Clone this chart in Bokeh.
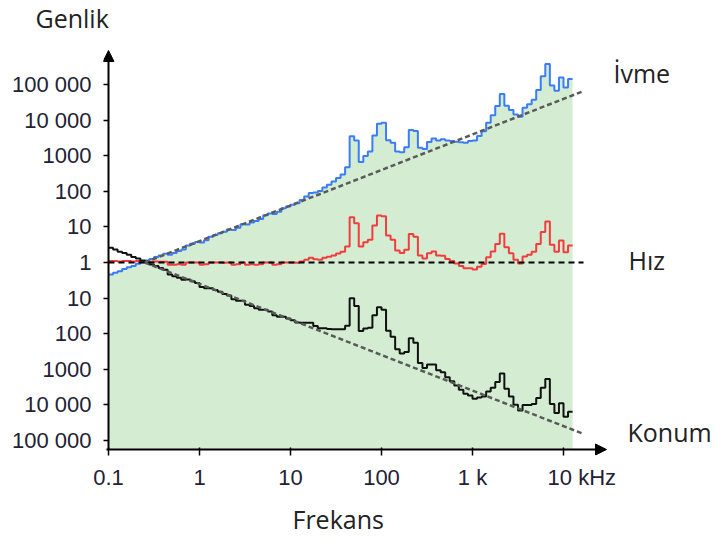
import numpy as np
from bokeh.plotting import figure
from bokeh.models import Range1d, FixedTicker, Arrow, NormalHead, Label, Title
from bokeh.embed import file_html
from bokeh.resources import INLINE

# Frequency bands: 102 bands of 0.05 decade from 0.1 Hz upward
band_edges_hz = 10 ** np.linspace(-1.0, 4.1, 103)

# Band levels as log10 of the normalised amplitude (0 -> 1, 5 -> 100 000, -5 -> 1/100 000)
hiz_log = [
    0.04, 0.04, 0.03, 0.04, 0.04, 0.03, 0.04, 0.03, 0.03, 0.02,
    0.03, 0.02, 0.02, -0.06, -0.06, -0.05, -0.06, 0.0, 0.0, 0.0,
    -0.06, -0.05, 0.0, 0.0, 0.0, -0.01, 0.0, -0.06, -0.05, 0.0,
    -0.06, -0.05, -0.06, -0.05, 0.0, 0.0, -0.06, -0.05, 0.0, 0.0,
    0.0, -0.01, 0.03, 0.08, 0.13, 0.09, 0.08, 0.13, 0.16, 0.2,
    0.25, 0.3, 0.45, 1.27, 1.1, 0.45, 0.57, 0.64, 1.04, 1.32,
    1.3, 0.76, 0.64, 0.34, 0.27, 0.36, 0.8, 0.72, 0.2, 0.11,
    0.26, 0.31, 0.2, 0.19, 0.1, 0.04, -0.03, -0.1, -0.16, -0.16,
    -0.2, -0.12, -0.04, 0.15, 0.31, 0.52, 0.81, 0.43, 0.26, 0.08,
    -0.03, 0.17, 0.22, 0.3, 0.52, 0.86, 1.15, 0.5, 0.3, 0.62,
    0.29, 0.48,
]
ivme_log = [
    -0.335, -0.285, -0.245, -0.185, -0.135, -0.095, -0.035, 0.005, 0.055, 0.095,
    0.155, 0.195, 0.245, 0.215, 0.265, 0.325, 0.365, 0.475, 0.525, 0.575,
    0.565, 0.625, 0.725, 0.775, 0.825, 0.865, 0.925, 0.915, 0.975, 1.075,
    1.065, 1.125, 1.165, 1.225, 1.325, 1.375, 1.365, 1.425, 1.525, 1.575,
    1.625, 1.665, 1.755, 1.855, 1.955, 1.965, 2.005, 2.105, 2.185, 2.275,
    2.375, 2.475, 2.675, 3.545, 3.425, 2.825, 2.995, 3.115, 3.565, 3.895,
    3.925, 3.435, 3.365, 3.115, 3.095, 3.235, 3.725, 3.695, 3.225, 3.185,
    3.385, 3.485, 3.425, 3.465, 3.425, 3.415, 3.395, 3.375, 3.365, 3.415,
    3.425, 3.555, 3.685, 3.925, 4.135, 4.395, 4.735, 4.405, 4.285, 4.155,
    4.095, 4.345, 4.445, 4.575, 4.845, 5.235, 5.575, 4.975, 4.825, 5.195,
    4.915, 5.155,
]
konum_log = [
    0.415, 0.365, 0.305, 0.265, 0.215, 0.155, 0.115, 0.055, 0.005, -0.055,
    -0.095, -0.155, -0.205, -0.335, -0.385, -0.425, -0.485, -0.475, -0.525, -0.575,
    -0.685, -0.725, -0.725, -0.775, -0.825, -0.885, -0.925, -1.035, -1.075, -1.075,
    -1.185, -1.225, -1.285, -1.325, -1.325, -1.375, -1.485, -1.525, -1.525, -1.575,
    -1.625, -1.685, -1.695, -1.695, -1.695, -1.785, -1.845, -1.845, -1.865, -1.875,
    -1.875, -1.875, -1.775, -1.005, -1.225, -1.925, -1.855, -1.835, -1.485, -1.255,
    -1.325, -1.915, -2.085, -2.435, -2.555, -2.515, -2.125, -2.255, -2.825, -2.965,
    -2.865, -2.865, -3.025, -3.085, -3.225, -3.335, -3.455, -3.575, -3.685, -3.735,
    -3.825, -3.795, -3.765, -3.625, -3.515, -3.355, -3.115, -3.545, -3.765, -3.995,
    -4.155, -4.005, -4.005, -3.975, -3.805, -3.515, -3.275, -3.975, -4.225, -3.955,
    -4.335, -4.195,
]

# Reference lines: flat velocity and the +/-1 decade-per-decade slopes
ref_f = [0.1, 16600]
hiz_ref = [0.0, 0.0]
trend_f = [0.25, 16000]
ivme_trend = [0.0, 4.8]
konum_trend = [0.0, -4.8]

# Axis tick values and their labels (figure spaces keep "10" centred on its tick)
x_ticks = [0.1, 1, 10, 100, 1000, 10000]
x_tick_labels = ["0.1", "1", "10", "100", "1 k", "\u2007\u2007\u200710 kHz"]
y_ticks = [5, 4, 3, 2, 1, 0, -1, -2, -3, -4, -5]
y_tick_labels = ["100 000", "10 000", "1000", "100", "10", "1",
                 "10", "100", "1000", "10 000", "100 000"]

# ---- layout in pixels ----
W, H = 719, 542
PX_DEC_X = 91.0          # pixels per frequency decade
PX_DEC_Y = 35.6          # pixels per amplitude decade
AXIS_X_PX = 108          # pixel column of the vertical axis (0.1 Hz)
ZERO_Y_PX = 262          # pixel row of amplitude 1
FRAME_L, FRAME_R, FRAME_T, FRAME_B = 103, W, 40, 455

def px_to_dec_x(px):
    return -1.0 + (px - AXIS_X_PX) / PX_DEC_X

def px_to_dec_y(py):
    return (ZERO_Y_PX - py) / PX_DEC_Y

Y_AXIS = px_to_dec_y(449)   # level of the horizontal axis line

p = figure(width=W, height=H, x_axis_type="log",
           x_range=Range1d(10 ** px_to_dec_x(FRAME_L), 10 ** px_to_dec_x(FRAME_R)),
           y_range=Range1d(px_to_dec_y(FRAME_B), px_to_dec_y(FRAME_T)),
           output_backend="svg", toolbar_location=None)
p.min_border_left = FRAME_L
p.min_border_right = 0
p.min_border_top = FRAME_T
p.min_border_bottom = H - FRAME_B
p.outline_line_color = None
p.grid.visible = False
p.background_fill_color = "white"
p.border_fill_color = "white"


def extend(vals):
    return list(vals) + [vals[-1]]


# green area under the acceleration spectrum
p.varea_step(x=band_edges_hz, y1=[Y_AXIS] * len(band_edges_hz), y2=extend(ivme_log),
             step_mode="after", fill_color="#d4edd2")

# spectra
p.step(band_edges_hz, extend(hiz_log), mode="after", line_color="#f43c3c", line_width=2)
p.step(band_edges_hz, extend(ivme_log), mode="after", line_color="#3b7cf8", line_width=2)
p.step(band_edges_hz, extend(konum_log), mode="after", line_color="#111111", line_width=2)

# dashed reference lines
p.line(trend_f, ivme_trend, line_color="#5a5a5a", line_width=2.5, line_dash="5 3")
p.line(trend_f, konum_trend, line_color="#5a5a5a", line_width=2.5, line_dash="5 3")
p.line(ref_f, hiz_ref, line_color="#000000", line_width=2, line_dash="6 4")

# axes (ticks reach from the frame edge to the drawn axis lines)
for ax in (p.xaxis[0], p.yaxis[0]):
    ax.axis_line_color = None
    ax.minor_tick_line_color = None
    ax.major_tick_line_color = "black"
    ax.major_tick_line_width = 1.5
    ax.major_tick_out = 0
    ax.major_label_text_font = "Liberation Sans"
    ax.major_label_text_font_size = "22px"
    ax.major_label_text_color = "#222233"

p.xaxis.ticker = FixedTicker(ticks=x_ticks)
p.xaxis.major_label_overrides = dict(zip(x_ticks, x_tick_labels))
p.xaxis.major_tick_in = 8
p.xaxis.major_label_standoff = 9

p.yaxis.ticker = FixedTicker(ticks=y_ticks)
p.yaxis.major_label_overrides = dict(zip(y_ticks, y_tick_labels))
p.yaxis.major_tick_in = 5
p.yaxis.major_label_standoff = 12

# axis lines with arrow heads
p.add_layout(Arrow(end=NormalHead(size=11, fill_color="black", line_color="black"),
                   x_start=0.1, y_start=Y_AXIS, x_end=0.1, y_end=px_to_dec_y(50),
                   line_color="black", line_width=2))
p.add_layout(Arrow(end=NormalHead(size=11, fill_color="black", line_color="black"),
                   x_start=10 ** px_to_dec_x(106), y_start=Y_AXIS,
                   x_end=10 ** px_to_dec_x(606), y_end=Y_AXIS,
                   line_color="black", line_width=2))

# curve names
name_style = dict(text_font="Open Sans", text_font_size="25px", text_color="#222222",
                  text_baseline="middle", text_align="left")
p.add_layout(Label(x=10 ** px_to_dec_x(613), y=px_to_dec_y(72), text="İvme", **name_style))
p.add_layout(Label(x=10 ** px_to_dec_x(628), y=px_to_dec_y(259), text="Hız", **name_style))
p.add_layout(Label(x=10 ** px_to_dec_x(627), y=px_to_dec_y(431), text="Konum", **name_style))

# axis titles: amplitude name in the top margin, frequency name under the axis
p.add_layout(Label(x=35 - FRAME_L, y=FRAME_T - 17, x_units="screen", y_units="screen",
                   text="Genlik", **name_style), "above")
p.add_layout(Title(text="Frekans", offset=292 - FRAME_L, standoff=14, align="left",
                   text_font="Open Sans", text_font_size="25px", text_color="#222222",
                   text_font_style="normal"), "below")

open("out.html", "w").write(file_html(p, INLINE))
